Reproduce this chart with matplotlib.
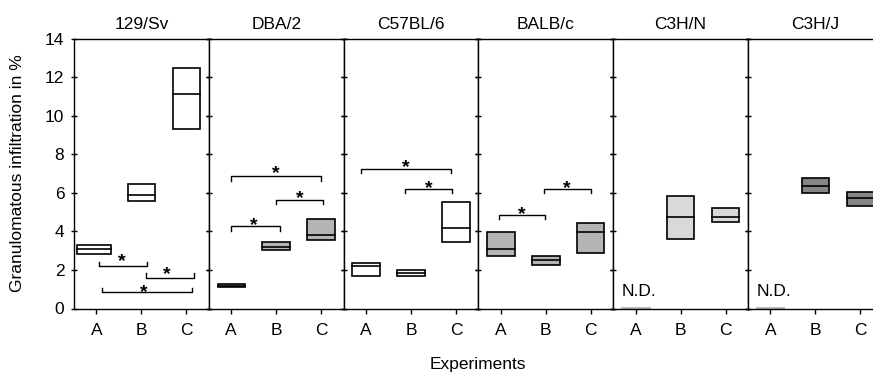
import matplotlib
matplotlib.use("Agg")
import matplotlib.pyplot as plt
from matplotlib.patches import Rectangle

plt.rcParams['font.family'] = ['Liberation Sans', 'DejaVu Sans']

strains = ["129/Sv", "DBA/2", "C57BL/6", "BALB/c", "C3H/N", "C3H/J"]
experiments = ["A", "B", "C"]
y_ticks = [0, 2, 4, 6, 8, 10, 12, 14]

# lower quartile, median, upper quartile for experiments A, B, C (None = N.D.)
q1 = [[2.84, 5.56, 9.33], [1.10, 3.01, 3.55], [1.71, 1.68, 3.45],
      [2.70, 2.27, 2.87], [None, 3.62, 4.47], [None, 6.00, 5.30]]
med = [[3.10, 5.91, 11.15], [1.18, 3.20, 3.83], [2.18, 1.86, 4.18],
       [3.08, 2.53, 3.95], [None, 4.73, 4.75], [None, 6.38, 5.74]]
q3 = [[3.27, 6.48, 12.46], [1.26, 3.45, 4.66], [2.35, 2.02, 5.53],
      [3.98, 2.75, 4.42], [None, 5.82, 5.20], [None, 6.78, 6.03]]

# significance brackets: (strain index, x start, x end, height, star x, star y, direction)
brackets = [
    (0, 1.06, 2.12, 2.18, 1.57, 2.82, 1),
    (0, 2.10, 3.17, 1.60, 2.57, 2.15, 1),
    (0, 1.12, 3.13, 0.84, 2.06, 1.22, 1),
    (1, 1.00, 2.08, 4.26, 1.50, 4.65, -1),
    (1, 2.00, 3.04, 5.65, 2.52, 6.07, -1),
    (1, 1.00, 3.00, 6.86, 2.00, 7.35, -1),
    (2, 1.87, 2.91, 6.21, 2.39, 6.60, -1),
    (2, 0.89, 2.89, 7.25, 1.89, 7.68, -1),
    (3, 0.95, 1.98, 4.87, 1.47, 5.25, -1),
    (3, 1.95, 3.00, 6.21, 2.47, 6.59, -1),
]

fills = ["white", "#b5b5b5", "white", "#b5b5b5", "#d9d9d9", "#858585"]

W, H = 873, 376
fig = plt.figure(figsize=(W / 100, H / 100), dpi=100)
left, bottom_px, top_px, pw = 74, 308.5, 38.7, 134.8
axes = []
for i, s in enumerate(strains):
    ax = fig.add_axes([(left + i * pw) / W, (H - bottom_px) / H, pw / W, (bottom_px - top_px) / H])
    axes.append(ax)
    ax.set_xlim(0.5, 3.5)
    ax.set_ylim(0, 14)
    ax.set_xticks([1, 2, 3])
    ax.set_xticklabels(experiments, fontsize=12.5)
    ax.set_yticks(y_ticks)
    ax.tick_params(axis='x', direction='out', length=3.5, width=1, pad=7)
    ax.tick_params(axis='y', direction='inout', length=4, width=1, left=True, right=True, pad=5)
    if i == 0:
        ax.set_yticklabels([str(v) for v in y_ticks], fontsize=12.5)
    else:
        ax.set_yticklabels([])
    for sp in ax.spines.values():
        sp.set_linewidth(1.0)
    ax.set_title(s, fontsize=12.5, pad=7)

    for j in range(3):
        if q1[i][j] is None:
            ax.text(0.69, 0.65, "N.D.", fontsize=12.5, ha='left', va='baseline')
            ax.plot([0.69, 1.31], [0.04, 0.04], color='#bbbbbb', lw=1.5, clip_on=False)
            continue
        x = j + 1
        w = 0.61
        if i == 0 and j == 0:
            x, w = 0.94, 0.75
        ax.add_patch(Rectangle((x - w / 2, q1[i][j]), w, q3[i][j] - q1[i][j],
                               facecolor=fills[i], edgecolor='black', lw=1.2, zorder=3))
        ax.plot([x - w / 2, x + w / 2], [med[i][j], med[i][j]], color='black', lw=1.2, zorder=4)

star_fs = 14
for (si, x0, x1, h, sx, sy, d) in brackets:
    ax = axes[si]
    e = 0.24 * d
    ax.plot([x0, x0, x1, x1], [h + e, h, h, h + e], color='black', lw=1.0)
    ax.annotate("*", (sx, sy), xytext=(0, -0.6 * star_fs), textcoords='offset points',
                fontsize=star_fs, fontweight='bold', ha='center', va='baseline')

fig.text(18 / W, 1 - 173.6 / H, "Granulomatous infiltration in %", rotation=90,
         fontsize=12.5, ha='center', va='center')
fig.text(478 / W, 1 - 365 / H, "Experiments", fontsize=12.5, ha='center', va='center')

fig.savefig("out.png", dpi=100)
